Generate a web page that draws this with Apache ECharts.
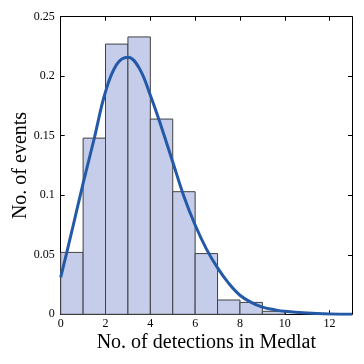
<!DOCTYPE html>
<html>
<head>
<meta charset="utf-8">
<script src="https://cdn.jsdelivr.net/npm/echarts@6/dist/echarts.min.js"></script>
<style>html,body{margin:0;padding:0;background:#fff}#c{width:364px;height:364px}</style>
</head>
<body>
<div id="c"></div>
<script>
// Histogram bins (left edge, right edge) and heights
const binStart = [0, 1, 2, 3, 4, 5, 6, 7, 8, 9];
const binEnd   = [1, 2, 3, 4, 5, 6, 7, 8, 9, 10];
const binValue = [0.052, 0.148, 0.227, 0.233, 0.164, 0.103, 0.051, 0.012, 0.010, 0.0025];

// Fitted curve
const curveX = [0, 0.5, 1, 1.5, 2, 2.5, 3, 3.5, 4, 4.5, 5, 5.5, 6, 6.5, 7, 7.5, 8, 8.5, 9, 9.5, 10, 11, 12, 13];
const curveY = [0.031, 0.070, 0.110, 0.148, 0.187, 0.210, 0.216, 0.207, 0.184, 0.157, 0.128, 0.099, 0.075, 0.055, 0.039, 0.026, 0.016, 0.010, 0.006, 0.004, 0.0025, 0.001, 0.0003, 0.0001];

const xTicks = [0, 2, 4, 6, 8, 10, 12];
const yTicks = [0, 0.05, 0.1, 0.15, 0.2, 0.25];
const yTickLabels = ['0', '0.05', '0.1', '0.15', '0.2', '0.25'];

const font = 'Liberation Serif';
const chart = echarts.init(document.getElementById('c'), null, {renderer: 'canvas'});

const axisLine = {show: true, onZero: false, lineStyle: {color: '#000', width: 1}};
const tick = {show: true, inside: true, length: 4, lineStyle: {color: '#000', width: 1}};

chart.setOption({
  animation: false,
  backgroundColor: '#fff',
  grid: {left: 60.7, right: 12, top: 16.7, bottom: 49.7, containLabel: false, outerBoundsMode: 'none'},
  xAxis: [{
    type: 'value', min: 0, max: 13, position: 'bottom',
    name: 'No. of detections in Medlat', nameLocation: 'middle', nameGap: 18,
    nameMoveOverlap: false,
    nameTextStyle: {fontFamily: font, fontSize: 20, color: '#000'},
    axisLine: axisLine,
    axisTick: Object.assign({customValues: xTicks}, tick),
    axisLabel: {customValues: xTicks, fontFamily: font, fontSize: 12, color: '#000', margin: 4},
    splitLine: {show: false}
  }, {
    type: 'value', min: 0, max: 13, position: 'top',
    axisLine: axisLine,
    axisTick: Object.assign({customValues: xTicks}, tick),
    axisLabel: {show: false},
    splitLine: {show: false}
  }],
  yAxis: [{
    type: 'value', min: 0, max: 0.25, position: 'left',
    name: 'No. of events', nameLocation: 'middle', nameGap: 30,
    nameMoveOverlap: false,
    nameTextStyle: {fontFamily: font, fontSize: 20, color: '#000'},
    axisLine: axisLine,
    axisTick: Object.assign({customValues: yTicks}, tick),
    axisLabel: {
      customValues: yTicks, fontFamily: font, fontSize: 12, color: '#000', margin: 6,
      formatter: function (v) { const i = yTicks.findIndex(t => Math.abs(t - v) < 1e-9); return i >= 0 ? yTickLabels[i] : ''; }
    },
    splitLine: {show: false}
  }, {
    type: 'value', min: 0, max: 0.25, position: 'right',
    axisLine: axisLine,
    axisTick: Object.assign({customValues: yTicks}, tick),
    axisLabel: {show: false},
    splitLine: {show: false}
  }],
  series: [{
    type: 'custom',
    xAxisIndex: 0, yAxisIndex: 0,
    z: 2,
    data: binStart.map((s, i) => [s, binEnd[i], binValue[i]]),
    renderItem: function (params, api) {
      const p0 = api.coord([api.value(0), api.value(2)]);
      const p1 = api.coord([api.value(1), 0]);
      return {
        type: 'rect',
        shape: {x: p0[0], y: p0[1], width: p1[0] - p0[0], height: p1[1] - p0[1]},
        style: {fill: '#c5cdea', stroke: '#404040', lineWidth: 1}
      };
    }
  }, {
    type: 'line',
    xAxisIndex: 0, yAxisIndex: 0,
    z: 3,
    smooth: 0.4,
    showSymbol: false,
    data: curveX.map((x, i) => [x, curveY[i]]),
    lineStyle: {color: '#2459a8', width: 3}
  }]
});
</script>
</body>
</html>
